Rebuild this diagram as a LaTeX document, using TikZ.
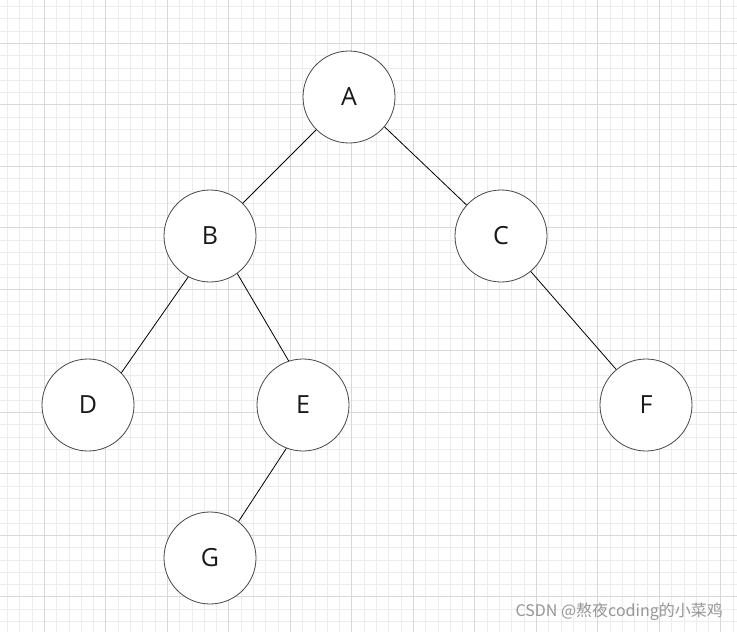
\documentclass[tikz,border=0pt]{standalone}
\usepackage{fontspec}
\setmainfont{Open Sans}
\newfontfamily\cjk{Noto Sans CJK SC}
\definecolor{gridminor}{RGB}{236,236,236}
\definecolor{gridmajor}{RGB}{216,216,216}
\definecolor{circlecol}{RGB}{70,70,70}
\definecolor{wmark}{RGB}{150,150,150}
\begin{document}
\begin{tikzpicture}[x=1pt,y=-1pt,
  treenode/.style={circle,draw=circlecol,line width=0.8pt,fill=white,minimum size=92pt,inner sep=0pt,font=\fontsize{25}{25}\selectfont,text=black!90},
  edge/.style={draw=black,line width=0.8pt}]
\useasboundingbox (0,0) rectangle (737,632);
\fill[white] (0,0) rectangle (737,632);
% grid
\foreach \i in {0,...,59} {\draw[gridminor,line width=0.8pt] ({7.4+12.3*\i},0) -- ({7.4+12.3*\i},632);}
\foreach \i in {0,...,51} {\draw[gridminor,line width=0.8pt] (0,{6.4+12.3*\i}) -- (737,{6.4+12.3*\i});}
\foreach \k in {0,...,11} {\draw[gridmajor,line width=0.8pt] ({44.3+61.5*\k},0) -- ({44.3+61.5*\k},632);}
\foreach \k in {0,...,9} {\draw[gridmajor,line width=0.8pt] (0,{43.3+61.5*\k}) -- (737,{43.3+61.5*\k});}
% nodes
\node[treenode] (A) at (349,97) {A};
\node[treenode] (B) at (210,236) {B};
\node[treenode] (C) at (501,236) {C};
\node[treenode] (D) at (88,405) {D};
\node[treenode] (E) at (303,405) {E};
\node[treenode] (F) at (646,405) {F};
\node[treenode] (G) at (210,558) {G};
% edges
\draw[edge] (A.225) -- (B.45);
\draw[edge] (A.320) -- (C.138);
\draw[edge] (B.242) -- (D.44);
\draw[edge] (B.306) -- (E.108);
\draw[edge] (E.249) -- (G.52);
\draw[edge] (C.310) -- (F.130);
% watermark
\node[anchor=east,text=wmark,font=\cjk\fontsize{16}{16}\selectfont,inner sep=0pt] (wm) at (723,612) {CSDN @熬夜coding的小菜鸡};
\end{tikzpicture}
\end{document}
